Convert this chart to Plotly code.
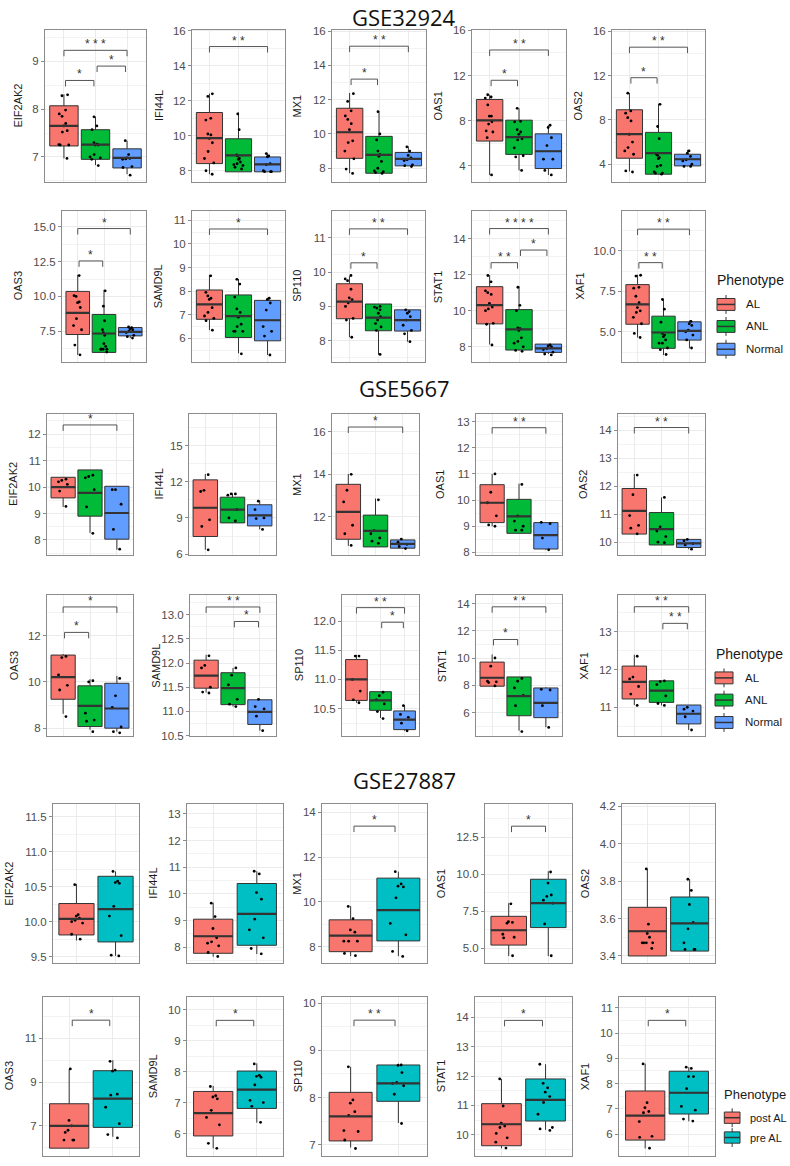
import plotly.graph_objects as go

W, H = 790, 1166

PHENO_A = ["AL", "ANL", "Normal"]
PHENO_C = ["post AL", "pre AL"]
FILL = {"AL": "#F8766D", "ANL": "#00BA38", "Normal": "#619CFF",
        "post AL": "#F8766D", "pre AL": "#00BFC4"}
DATASETS = ["GSE32924", "GSE5667", "GSE27887"]

# ---------------- GSE32924 (AL / ANL / Normal) ----------------
# box stats per group: [lower whisker, q1, median, q3, upper whisker]
A_EIF2AK2_pts = [[8.3, 8.28, 7.98, 7.9, 7.85, 7.7, 7.65, 7.55, 7.52, 7.26, 7.25, 7.25, 6.97],
                 [7.84, 7.65, 7.57, 7.3, 7.27, 7.25, 7.25, 7.05, 7.0, 6.98, 6.95, 6.82],
                 [7.34, 7.05, 6.98, 6.97, 6.96, 6.95, 6.8, 6.78, 6.62]]
A_EIF2AK2_box = [[6.97, 7.23, 7.65, 8.07, 8.31], [6.83, 6.95, 7.26, 7.57, 7.84], [6.64, 6.77, 6.98, 7.17, 7.34]]
A_EIF2AK2_ticks = ["7", "8", "9"]
A_EIF2AK2_range = [6.47, 9.66]
A_EIF2AK2_sig = [(1, 3, 9.23, "***"), (1, 2, 8.6, "*"), (2, 3, 8.9, "*")]

A_IFI44L_pts = [[12.4, 12.25, 11.0, 10.9, 10.1, 10.05, 9.85, 9.6, 9.1, 8.7, 8.45, 8.0, 7.8],
                [11.25, 10.35, 8.9, 8.85, 8.7, 8.65, 8.5, 8.4, 8.35, 8.3, 8.2, 8.1],
                [8.98, 8.85, 8.8, 8.4, 8.35, 8.0, 7.95, 7.95, 7.95]]
A_IFI44L_box = [[7.81, 8.41, 9.87, 11.33, 12.41], [7.94, 7.94, 8.88, 9.83, 11.33], [7.94, 7.94, 8.37, 8.79, 8.98]]
A_IFI44L_ticks = ["8", "10", "12", "14", "16"]
A_IFI44L_range = [7.34, 16.06]
A_IFI44L_sig = [(1, 3, 15.1, "**")]

A_MX1_pts = [[12.35, 11.9, 11.35, 11.05, 10.85, 10.6, 10.25, 9.6, 9.5, 9.0, 8.55, 7.95, 7.7],
             [11.3, 10.0, 9.65, 9.0, 8.8, 8.7, 8.4, 8.0, 7.85, 7.8, 7.75, 7.7],
             [9.25, 9.0, 8.75, 8.6, 8.5, 8.45, 8.2, 8.15, 8.1]]
A_MX1_box = [[7.71, 8.58, 10.1, 11.5, 12.39], [7.71, 7.71, 8.78, 9.86, 11.33], [8.14, 8.14, 8.55, 8.92, 9.27]]
A_MX1_ticks = ["8", "10", "12", "14", "16"]
A_MX1_range = [7.18, 16.08]
A_MX1_sig = [(1, 3, 15.12, "**"), (1, 2, 13.2, "*")]

A_OAS1_pts = [[10.3, 10.1, 10.0, 9.4, 8.4, 8.4, 7.9, 7.7, 7.1, 7.0, 6.5, 3.2],
              [9.1, 7.95, 7.9, 7.2, 7.0, 6.8, 6.4, 6.3, 5.6, 4.9, 4.8, 3.6],
              [7.6, 7.4, 6.5, 5.8, 4.6, 4.6, 3.6, 3.2]]
A_OAS1_box = [[3.2, 6.2, 8.03, 9.88, 10.3], [3.6, 5.02, 6.55, 8.05, 9.1], [3.2, 3.77, 5.3, 6.84, 7.6]]
A_OAS1_ticks = ["4", "8", "12", "16"]
A_OAS1_range = [2.55, 16.05]
A_OAS1_sig = [(1, 3, 14.26, "**"), (1, 2, 11.58, "*")]

A_OAS2_pts = [[10.4, 8.8, 8.6, 8.2, 7.9, 6.7, 6.0, 5.5, 5.2, 4.9, 3.4, 3.3],
              [9.4, 7.4, 6.3, 4.9, 4.8, 4.6, 4.5, 3.9, 3.8, 3.3, 3.2, 3.2, 3.1],
              [5.2, 5.0, 4.7, 4.4, 4.3, 4.0, 3.8, 3.8]]
A_OAS2_box = [[3.34, 4.54, 6.71, 8.91, 10.42], [3.1, 3.1, 5.0, 6.87, 9.45], [3.8, 3.85, 4.45, 4.9, 5.29]]
A_OAS2_ticks = ["4", "8", "12", "16"]
A_OAS2_range = [2.37, 16.12]
A_OAS2_sig = [(1, 3, 14.55, "**"), (1, 2, 11.8, "*")]

A_OAS3_pts = [[11.5, 10.05, 10.0, 9.6, 9.55, 9.2, 8.4, 7.9, 7.6, 6.5, 5.8],
              [10.4, 9.3, 8.25, 7.6, 7.4, 7.2, 6.6, 6.4, 6.2, 6.2, 6.2, 6.2, 6.0],
              [7.8, 7.75, 7.65, 7.6, 7.5, 7.4, 7.2, 7.1, 7.0]]
A_OAS3_box = [[5.79, 7.26, 8.81, 10.36, 11.55], [5.97, 5.97, 7.33, 8.7, 10.47], [7.0, 7.16, 7.45, 7.76, 7.8]]
A_OAS3_ticks = ["7.5", "10.0", "12.5", "15.0"]
A_OAS3_range = [5.31, 16.14]
A_OAS3_sig = [(1, 3, 14.88, "*"), (1, 2, 12.55, "*")]

A_SAMD9L_pts = [[8.65, 7.95, 7.8, 7.7, 7.65, 7.3, 7.1, 6.95, 6.85, 6.75, 6.35],
                [8.5, 8.3, 7.75, 7.25, 7.1, 6.9, 6.6, 6.5, 6.3, 6.3, 6.3, 5.35],
                [7.7, 7.65, 7.5, 7.2, 6.5, 6.3, 6.1, 5.3]]
A_SAMD9L_box = [[6.35, 6.81, 7.44, 8.05, 8.69], [5.37, 6.04, 6.94, 7.84, 8.51], [5.3, 5.9, 6.77, 7.61, 7.72]]
A_SAMD9L_ticks = ["6", "7", "8", "9", "10", "11"]
A_SAMD9L_range = [5.02, 11.39]
A_SAMD9L_sig = [(1, 3, 10.63, "*")]

A_SP110_pts = [[9.9, 9.8, 9.75, 9.5, 9.25, 9.2, 9.1, 9.0, 8.65, 8.6, 8.1],
               [9.0, 8.98, 8.95, 8.9, 8.8, 8.7, 8.6, 8.5, 8.4, 8.3, 7.6],
               [8.9, 8.85, 8.8, 8.7, 8.6, 8.45, 8.3, 8.2, 7.97]]
A_SP110_box = [[8.1, 8.64, 9.14, 9.66, 9.88], [7.59, 8.29, 8.67, 9.07, 9.07], [7.97, 8.28, 8.6, 8.9, 8.9]]
A_SP110_ticks = ["8", "9", "10", "11"]
A_SP110_range = [7.39, 11.78]
A_SP110_sig = [(1, 3, 11.26, "**"), (1, 2, 10.27, "*")]

A_STAT1_pts = [[11.95, 11.6, 11.1, 11.0, 10.9, 10.4, 10.2, 10.1, 10.0, 9.3, 9.25, 8.1],
               [11.3, 10.3, 10.0, 9.05, 9.0, 8.9, 8.5, 8.3, 8.2, 8.0, 7.8, 7.75],
               [8.1, 8.05, 8.0, 7.9, 7.85, 7.7, 7.6, 7.55]]
A_STAT1_box = [[8.13, 9.27, 10.31, 11.33, 11.97], [7.8, 7.82, 8.96, 10.06, 11.35], [7.6, 7.69, 7.91, 8.15, 8.15]]
A_STAT1_ticks = ["8", "10", "12", "14"]
A_STAT1_range = [7.18, 15.52]
A_STAT1_sig = [(1, 3, 14.55, "****"), (1, 2, 12.66, "**"), (2, 3, 13.36, "*")]

A_XAF1_pts = [[8.5, 8.45, 7.75, 7.7, 7.2, 6.8, 6.5, 6.3, 6.2, 5.9, 5.5, 4.9, 4.65],
              [7.0, 6.4, 5.6, 4.9, 4.8, 4.7, 4.5, 4.3, 4.3, 4.0, 3.9, 3.6],
              [5.65, 5.5, 5.4, 5.1, 5.0, 4.8, 4.5, 4.0]]
A_XAF1_box = [[4.65, 5.47, 6.7, 7.92, 8.53], [3.57, 3.98, 4.96, 5.97, 7.0], [3.98, 4.49, 5.06, 5.62, 5.7]]
A_XAF1_ticks = ["5.0", "7.5", "10.0"]
A_XAF1_range = [3.16, 12.47]
A_XAF1_sig = [(1, 3, 11.35, "**"), (1, 2, 9.28, "**")]

# ---------------- GSE5667 (AL / ANL / Normal) ----------------
B_EIF2AK2_pts = [[10.3, 10.25, 10.2, 10.1, 9.85, 9.27], [10.45, 10.4, 10.35, 9.9, 9.25, 8.25],
                 [9.9, 9.9, 9.35, 8.4, 7.65]]
B_EIF2AK2_box = [[9.25, 9.59, 10.0, 10.37, 10.37], [8.27, 8.9, 9.78, 10.65, 10.65], [7.63, 8.03, 9.02, 10.03, 10.03]]
B_EIF2AK2_ticks = ["8", "9", "10", "11", "12"]
B_EIF2AK2_range = [7.44, 12.76]
B_EIF2AK2_sig = [(1, 3, 12.35, "*")]

B_IFI44L_pts = [[12.6, 11.3, 11.2, 8.85, 8.3, 6.35], [11.0, 11.0, 10.9, 9.7, 9.0, 8.75],
                [10.4, 9.7, 9.0, 8.95, 8.05]]
B_IFI44L_box = [[6.36, 7.46, 9.85, 12.17, 12.66], [8.59, 8.59, 9.69, 10.73, 11.06], [8.05, 8.34, 9.22, 10.1, 10.46]]
B_IFI44L_ticks = ["6", "9", "12", "15"]
B_IFI44L_range = [5.94, 17.64]
B_IFI44L_sig = []

B_MX1_pts = [[14.0, 13.25, 12.7, 11.6, 11.2, 10.65], [12.8, 11.35, 11.2, 11.0, 10.85, 10.75],
             [10.95, 10.8, 10.7, 10.6, 10.5]]
B_MX1_box = [[10.63, 10.94, 12.23, 13.53, 14.02], [10.58, 10.58, 11.34, 12.08, 12.86], [10.5, 10.52, 10.72, 10.91, 10.95]]
B_MX1_ticks = ["12", "14", "16"]
B_MX1_range = [10.21, 16.84]
B_MX1_sig = [(1, 3, 16.23, "*")]

B_OAS1_pts = [[11.0, 10.3, 9.9, 9.4, 9.05, 9.0], [10.6, 9.4, 9.2, 9.0, 8.85, 8.85], [9.15, 9.1, 8.55, 8.1]]
B_OAS1_box = [[9.0, 9.14, 9.9, 10.59, 11.0], [8.73, 8.73, 9.38, 10.03, 10.63], [8.1, 8.13, 8.66, 9.14, 9.15]]
B_OAS1_ticks = ["8", "9", "10", "11", "12", "13"]
B_OAS1_range = [7.91, 13.29]
B_OAS1_sig = [(1, 3, 12.77, "**")]

B_OAS2_pts = [[12.4, 11.7, 10.95, 10.6, 10.5, 10.3], [11.6, 10.55, 10.4, 10.2, 10.0, 9.98],
              [10.1, 10.05, 9.95, 9.9, 9.75]]
B_OAS2_box = [[10.29, 10.29, 11.12, 11.92, 12.44], [9.9, 9.9, 10.47, 11.06, 11.6], [9.75, 9.81, 9.96, 10.1, 10.1]]
B_OAS2_ticks = ["10", "11", "12", "13", "14"]
B_OAS2_range = [9.55, 14.58]
B_OAS2_sig = [(1, 3, 14.1, "**")]

B_OAS3_pts = [[11.1, 11.05, 10.3, 9.85, 9.65, 8.5], [10.05, 10.0, 8.65, 8.35, 8.3, 7.85],
              [10.15, 9.4, 8.9, 8.05, 7.85, 7.8]]
B_OAS3_box = [[8.62, 9.25, 10.21, 11.16, 11.2], [7.93, 8.07, 8.96, 9.83, 10.12], [7.85, 8.0, 8.85, 9.94, 10.26]]
B_OAS3_ticks = ["8", "10", "12"]
B_OAS3_range = [7.66, 13.74]
B_OAS3_sig = [(1, 3, 13.24, "*"), (1, 2, 12.14, "*")]

B_SAMD9L_pts = [[12.15, 11.95, 11.9, 11.5, 11.4, 11.38], [11.9, 11.75, 11.55, 11.25, 11.15, 11.1],
                [11.25, 11.1, 11.05, 10.9, 10.6]]
B_SAMD9L_box = [[11.39, 11.48, 11.74, 12.06, 12.17], [11.1, 11.14, 11.48, 11.8, 11.9], [10.6, 10.73, 10.99, 11.24, 11.25]]
B_SAMD9L_ticks = ["10.5", "11.0", "11.5", "12.0", "12.5", "13.0"]
B_SAMD9L_range = [10.49, 13.4]
B_SAMD9L_sig = [(1, 3, 13.16, "**"), (2, 3, 12.86, "*")]

B_SP110_pts = [[11.4, 11.4, 11.0, 10.8, 10.65, 10.6], [10.78, 10.72, 10.65, 10.58, 10.45, 10.33],
               [10.55, 10.4, 10.35, 10.25, 10.12]]
B_SP110_box = [[10.6, 10.64, 11.0, 11.34, 11.42], [10.34, 10.47, 10.64, 10.79, 10.79], [10.12, 10.14, 10.31, 10.46, 10.56]]
B_SP110_ticks = ["10.5", "11.0", "11.5", "12.0"]
B_SP110_range = [10.03, 12.44]
B_SP110_sig = [(1, 3, 12.23, "**"), (2, 3, 11.98, "*")]

B_STAT1_pts = [[10.0, 9.4, 8.3, 8.25, 8.2, 7.95], [8.5, 8.3, 7.8, 7.25, 6.5, 4.6], [7.7, 7.65, 6.5, 4.9]]
B_STAT1_box = [[7.93, 7.93, 8.55, 9.7, 10.26], [4.66, 5.76, 7.2, 8.61, 8.61], [4.92, 5.62, 6.71, 7.8, 7.85]]
B_STAT1_ticks = ["4", "6", "8", "10", "12", "14"]
B_STAT1_range = [4.27, 14.6]
B_STAT1_sig = [(1, 3, 13.76, "**"), (1, 2, 11.36, "*")]

B_XAF1_pts = [[12.35, 11.8, 11.75, 11.55, 11.35, 11.05], [11.7, 11.68, 11.6, 11.3, 11.1, 11.05],
              [11.0, 10.95, 10.9, 10.75, 10.4]]
B_XAF1_box = [[11.06, 11.22, 11.67, 12.09, 12.39], [11.05, 11.13, 11.44, 11.7, 11.7], [10.4, 10.56, 10.83, 11.06, 11.06]]
B_XAF1_ticks = ["11", "12", "13"]
B_XAF1_range = [10.24, 13.96]
B_XAF1_sig = [(1, 3, 13.66, "**"), (2, 3, 13.22, "**")]

# ---------------- GSE27887 (post AL / pre AL) ----------------
C_EIF2AK2_pts = [[10.53, 10.1, 10.08, 10.05, 10.02, 10.0, 9.98, 9.82, 9.75],
                 [10.72, 10.58, 10.56, 10.55, 10.22, 10.08, 9.8, 9.51, 9.52]]
C_EIF2AK2_box = [[9.73, 9.81, 10.04, 10.26, 10.54], [9.51, 9.71, 10.18, 10.65, 10.72]]
C_EIF2AK2_ticks = ["9.5", "10.0", "10.5", "11.0", "11.5"]
C_EIF2AK2_range = [9.41, 11.68]
C_EIF2AK2_sig = []

C_IFI44L_pts = [[9.65, 9.15, 8.7, 8.35, 8.2, 8.15, 8.05, 7.8, 7.65],
                [10.85, 10.75, 10.05, 9.8, 9.05, 8.65, 8.35, 7.95, 7.75]]
C_IFI44L_box = [[7.64, 7.77, 8.41, 9.05, 9.67], [7.74, 8.07, 9.25, 10.39, 10.85]]
C_IFI44L_ticks = ["8", "9", "10", "11", "12", "13"]
C_IFI44L_range = [7.41, 13.36]
C_IFI44L_sig = []

C_MX1_pts = [[9.8, 9.25, 8.75, 8.65, 8.25, 8.25, 8.25, 7.7, 7.6],
             [11.35, 10.8, 10.7, 10.67, 10.18, 9.04, 8.53, 7.79, 7.57]]
C_MX1_box = [[7.58, 7.78, 8.5, 9.2, 9.81], [7.58, 8.26, 9.63, 11.06, 11.35]]
C_MX1_ticks = ["8", "10", "12", "14"]
C_MX1_range = [7.28, 14.35]
C_MX1_sig = [(1, 2, 13.38, "*")]

C_OAS1_pts = [[8.0, 6.8, 6.75, 6.7, 5.95, 5.75, 5.7, 4.5],
              [10.15, 9.4, 8.6, 8.5, 8.25, 8.05, 6.65, 4.5]]
C_OAS1_box = [[4.48, 5.22, 6.22, 7.16, 8.05], [4.48, 6.4, 8.05, 9.66, 10.2]]
C_OAS1_ticks = ["5.0", "7.5", "10.0", "12.5"]
C_OAS1_range = [4.02, 14.71]
C_OAS1_sig = [(1, 2, 13.24, "*")]

C_OAS2_pts = [[3.865, 3.57, 3.52, 3.5, 3.47, 3.47, 3.47, 3.47, 3.44],
              [3.81, 3.75, 3.675, 3.58, 3.545, 3.47, 3.435, 3.435, 3.435]]
C_OAS2_box = [[3.4, 3.4, 3.532, 3.66, 3.864], [3.426, 3.426, 3.574, 3.715, 3.81]]
C_OAS2_ticks = ["3.4", "3.6", "3.8", "4.0", "4.2"]
C_OAS2_range = [3.363, 4.21]
C_OAS2_sig = []

C_OAS3_pts = [[9.6, 7.25, 7.0, 6.8, 6.7, 6.35, 6.35, 6.35],
              [9.95, 9.55, 9.5, 8.45, 8.4, 7.85, 7.1, 6.6, 6.45]]
C_OAS3_box = [[5.98, 5.98, 7.0, 8.01, 9.6], [6.5, 6.93, 8.24, 9.52, 10.0]]
C_OAS3_ticks = ["7", "9", "11"]
C_OAS3_range = [5.62, 12.91]
C_OAS3_sig = [(1, 2, 11.83, "*")]

C_SAMD9L_pts = [[7.52, 7.22, 7.18, 7.12, 6.75, 6.52, 6.28, 5.68, 5.52],
                [8.25, 7.88, 7.85, 7.82, 7.57, 7.07, 7.0, 6.88, 6.36]]
C_SAMD9L_box = [[5.52, 5.92, 6.66, 7.36, 7.54], [6.35, 6.81, 7.42, 8.02, 8.27]]
C_SAMD9L_ticks = ["6", "7", "8", "9", "10"]
C_SAMD9L_range = [5.27, 10.43]
C_SAMD9L_sig = [(1, 2, 9.66, "*")]

C_SP110_pts = [[8.65, 7.95, 7.88, 7.7, 7.62, 7.3, 7.28, 7.1, 6.92],
               [8.69, 8.68, 8.53, 8.32, 8.3, 8.25, 8.07, 7.45]]
C_SP110_box = [[6.94, 7.08, 7.6, 8.11, 8.65], [7.46, 7.92, 8.3, 8.69, 8.72]]
C_SP110_ticks = ["7", "8", "9", "10"]
C_SP110_range = [6.76, 10.14]
C_SP110_sig = [(1, 2, 9.64, "**")]

C_STAT1_pts = [[11.9, 10.98, 10.4, 10.3, 10.25, 10.05, 9.9, 9.75, 9.55],
               [12.4, 11.75, 11.6, 11.45, 11.3, 11.1, 10.7, 10.25, 10.2, 10.15]]
C_STAT1_box = [[9.54, 9.63, 10.36, 11.06, 11.9], [10.17, 10.47, 11.19, 11.9, 12.4]]
C_STAT1_ticks = ["10", "11", "12", "13", "14"]
C_STAT1_range = [9.28, 14.7]
C_STAT1_sig = [(1, 2, 13.89, "*")]

C_XAF1_pts = [[8.78, 7.25, 7.05, 6.9, 6.85, 6.5, 5.92, 5.88, 5.45],
              [8.65, 8.6, 8.28, 8.28, 7.8, 7.1, 6.95, 6.6, 6.52]]
C_XAF1_box = [[5.44, 5.77, 6.74, 7.71, 8.79], [6.51, 6.8, 7.64, 8.49, 8.65]]
C_XAF1_ticks = ["6", "7", "8", "9", "10", "11"]
C_XAF1_range = [5.14, 11.44]
C_XAF1_sig = [(1, 2, 10.5, "*")]

PANELS = [
    ("EIF2AK2", PHENO_A, A_EIF2AK2_pts, A_EIF2AK2_box, A_EIF2AK2_ticks, A_EIF2AK2_range, A_EIF2AK2_sig),
    ("IFI44L", PHENO_A, A_IFI44L_pts, A_IFI44L_box, A_IFI44L_ticks, A_IFI44L_range, A_IFI44L_sig),
    ("MX1", PHENO_A, A_MX1_pts, A_MX1_box, A_MX1_ticks, A_MX1_range, A_MX1_sig),
    ("OAS1", PHENO_A, A_OAS1_pts, A_OAS1_box, A_OAS1_ticks, A_OAS1_range, A_OAS1_sig),
    ("OAS2", PHENO_A, A_OAS2_pts, A_OAS2_box, A_OAS2_ticks, A_OAS2_range, A_OAS2_sig),
    ("OAS3", PHENO_A, A_OAS3_pts, A_OAS3_box, A_OAS3_ticks, A_OAS3_range, A_OAS3_sig),
    ("SAMD9L", PHENO_A, A_SAMD9L_pts, A_SAMD9L_box, A_SAMD9L_ticks, A_SAMD9L_range, A_SAMD9L_sig),
    ("SP110", PHENO_A, A_SP110_pts, A_SP110_box, A_SP110_ticks, A_SP110_range, A_SP110_sig),
    ("STAT1", PHENO_A, A_STAT1_pts, A_STAT1_box, A_STAT1_ticks, A_STAT1_range, A_STAT1_sig),
    ("XAF1", PHENO_A, A_XAF1_pts, A_XAF1_box, A_XAF1_ticks, A_XAF1_range, A_XAF1_sig),
    ("EIF2AK2", PHENO_A, B_EIF2AK2_pts, B_EIF2AK2_box, B_EIF2AK2_ticks, B_EIF2AK2_range, B_EIF2AK2_sig),
    ("IFI44L", PHENO_A, B_IFI44L_pts, B_IFI44L_box, B_IFI44L_ticks, B_IFI44L_range, B_IFI44L_sig),
    ("MX1", PHENO_A, B_MX1_pts, B_MX1_box, B_MX1_ticks, B_MX1_range, B_MX1_sig),
    ("OAS1", PHENO_A, B_OAS1_pts, B_OAS1_box, B_OAS1_ticks, B_OAS1_range, B_OAS1_sig),
    ("OAS2", PHENO_A, B_OAS2_pts, B_OAS2_box, B_OAS2_ticks, B_OAS2_range, B_OAS2_sig),
    ("OAS3", PHENO_A, B_OAS3_pts, B_OAS3_box, B_OAS3_ticks, B_OAS3_range, B_OAS3_sig),
    ("SAMD9L", PHENO_A, B_SAMD9L_pts, B_SAMD9L_box, B_SAMD9L_ticks, B_SAMD9L_range, B_SAMD9L_sig),
    ("SP110", PHENO_A, B_SP110_pts, B_SP110_box, B_SP110_ticks, B_SP110_range, B_SP110_sig),
    ("STAT1", PHENO_A, B_STAT1_pts, B_STAT1_box, B_STAT1_ticks, B_STAT1_range, B_STAT1_sig),
    ("XAF1", PHENO_A, B_XAF1_pts, B_XAF1_box, B_XAF1_ticks, B_XAF1_range, B_XAF1_sig),
    ("EIF2AK2", PHENO_C, C_EIF2AK2_pts, C_EIF2AK2_box, C_EIF2AK2_ticks, C_EIF2AK2_range, C_EIF2AK2_sig),
    ("IFI44L", PHENO_C, C_IFI44L_pts, C_IFI44L_box, C_IFI44L_ticks, C_IFI44L_range, C_IFI44L_sig),
    ("MX1", PHENO_C, C_MX1_pts, C_MX1_box, C_MX1_ticks, C_MX1_range, C_MX1_sig),
    ("OAS1", PHENO_C, C_OAS1_pts, C_OAS1_box, C_OAS1_ticks, C_OAS1_range, C_OAS1_sig),
    ("OAS2", PHENO_C, C_OAS2_pts, C_OAS2_box, C_OAS2_ticks, C_OAS2_range, C_OAS2_sig),
    ("OAS3", PHENO_C, C_OAS3_pts, C_OAS3_box, C_OAS3_ticks, C_OAS3_range, C_OAS3_sig),
    ("SAMD9L", PHENO_C, C_SAMD9L_pts, C_SAMD9L_box, C_SAMD9L_ticks, C_SAMD9L_range, C_SAMD9L_sig),
    ("SP110", PHENO_C, C_SP110_pts, C_SP110_box, C_SP110_ticks, C_SP110_range, C_SP110_sig),
    ("STAT1", PHENO_C, C_STAT1_pts, C_STAT1_box, C_STAT1_ticks, C_STAT1_range, C_STAT1_sig),
    ("XAF1", PHENO_C, C_XAF1_pts, C_XAF1_box, C_XAF1_ticks, C_XAF1_range, C_XAF1_sig),
]

# ---------------- layout geometry (pixels) ----------------
ROW_TB = [(25, 179), (208, 360), (413, 555), (596, 738), (807, 967), (1001, 1162)]
ROW_LR = [
    [(45, 146), (192, 285), (332, 426), (472, 566), (612, 705)],
    [(62, 146), (192, 285), (332, 425), (472, 566), (622, 705)],
    [(47, 133), (189, 276), (332, 419), (476, 562), (618, 705)],
    [(47, 133), (190, 276), (342, 419), (476, 562), (618, 705)],
    [(53, 139), (187, 283), (322, 427), (485, 572), (622, 715)],
    [(43, 139), (187, 283), (322, 427), (475, 572), (619, 715)],
]
YTITLE_X = [
    [18.5, 159, 297.5, 438.5, 578.5],
    [18, 158, 297.5, 438, 580.5],
    [13.5, 159, 297.5, 440.5, 583.5],
    [13.5, 156, 298.5, 441.5, 584],
    [9, 153, 297, 440.5, 584.5],
    [9, 153, 298, 441, 585],
]
TITLE_POS = [(404, 12), (405, 387), (405, 782)]

FONT = "Liberation Sans, Arial, sans-serif"
GRID = "#EBEBEB"
MINOR = "#F3F3F3"
BORDER = "#8C8C8C"
OUTLINE = "#333333"


def px_x(x):
    return x / W


def px_y(y):
    return 1 - y / H


fig = go.Figure()
annotations = []
shapes = []
axes = {}

for idx, (gene, groups, pts, box, ticks, yr, sig) in enumerate(PANELS):
    r, c = divmod(idx, 5)
    top, bot = ROW_TB[r]
    left, right = ROW_LR[r][c]
    n = idx + 1
    xa = "x" if n == 1 else f"x{n}"
    ya = "y" if n == 1 else f"y{n}"
    ng = len(groups)
    for k, g in enumerate(groups):
        pos = k + 1
        lo, q1, med, q3, hi = box[k]
        fig.add_trace(go.Box(
            x=[pos], lowerfence=[lo], q1=[q1], median=[med], q3=[q3], upperfence=[hi],
            width=0.9, fillcolor=FILL[g], line=dict(color=OUTLINE, width=1),
            whiskerwidth=0, boxpoints=False, xaxis=xa, yaxis=ya,
            showlegend=False, hoverinfo="skip"))
        fig.add_trace(go.Scatter(
            x=[pos - 0.45, pos + 0.45], y=[med, med], mode="lines",
            line=dict(color=OUTLINE, width=2.2), xaxis=xa, yaxis=ya,
            showlegend=False, hoverinfo="skip"))
        fig.add_trace(go.Box(
            x0=pos, y=pts[k], boxpoints="all", jitter=0.45, pointpos=0, width=0.9,
            fillcolor="rgba(0,0,0,0)", line=dict(color="rgba(0,0,0,0)", width=0),
            whiskerwidth=0, marker=dict(color="black", size=2.8),
            xaxis=xa, yaxis=ya, showlegend=False, hoverinfo="skip"))
    span = yr[1] - yr[0]
    tip = 6.0 / (bot - top) * span
    for (i, j, yv, lab) in sig:
        if ng == 2:
            sh = 0.07
        elif j - i > 1:
            sh = 0.0
        else:
            sh = 0.05
        a, b = i + sh, j - sh
        fig.add_trace(go.Scatter(
            x=[a, a, b, b], y=[yv - tip, yv, yv, yv - tip], mode="lines",
            line=dict(color="#555555", width=1), xaxis=xa, yaxis=ya,
            showlegend=False, hoverinfo="skip"))
        annotations.append(dict(
            x=(a + b) / 2, y=yv, xref=xa, yref=ya, text=" ".join(lab), showarrow=False,
            xanchor="center", yanchor="bottom", yshift=-3,
            font=dict(family=FONT, size=12, color="#333333")))
    tv = [float(t) for t in ticks]
    step = tv[1] - tv[0]
    mids = [tv[0] - step / 2] + [t + step / 2 for t in tv]
    xkey = "xaxis" if n == 1 else f"xaxis{n}"
    ykey = "yaxis" if n == 1 else f"yaxis{n}"
    axes[xkey] = dict(
        domain=[px_x(left), px_x(right)], range=[0.4, ng + 0.6], anchor=ya,
        tickmode="array", tickvals=list(range(1, ng + 1)), showticklabels=False, ticks="",
        showgrid=True, gridcolor=GRID, gridwidth=1, zeroline=False,
        showline=True, mirror=True, linecolor=BORDER, linewidth=1, fixedrange=True)
    axes[ykey] = dict(
        domain=[px_y(bot), px_y(top)], range=yr, anchor=xa,
        tickmode="array", tickvals=tv, ticktext=ticks,
        ticks="outside", ticklen=3, tickcolor=BORDER, tickwidth=1,
        tickfont=dict(family=FONT, size=11.5, color="#4D4D4D"),
        showgrid=True, gridcolor=GRID, gridwidth=1, zeroline=False,
        showline=True, mirror=True, linecolor=BORDER, linewidth=1, fixedrange=True,
        minor=dict(tickmode="array", tickvals=mids, showgrid=True, gridcolor=MINOR,
                   gridwidth=0.7, ticks=""))
    annotations.append(dict(
        x=px_x(YTITLE_X[r][c]), y=px_y((top + bot) / 2), xref="paper", yref="paper",
        text=gene, textangle=-90, showarrow=False, xanchor="center", yanchor="middle",
        font=dict(family=FONT, size=11, color="#1A1A1A")))

# dataset titles
for name, (tx, ty) in zip(DATASETS, TITLE_POS):
    annotations.append(dict(
        x=px_x(tx), y=px_y(ty), xref="paper", yref="paper", text=name, showarrow=False,
        xanchor="center", yanchor="middle",
        font=dict(family="Open Sans, sans-serif", size=22, color="#111111")))

# legends (Phenotype)
LEGENDS = [
    dict(labels=PHENO_A, title=(715, 278), keyx=(717, 735), ys=[302.3, 324.5, 347.5], labx=744,
         tsize=14, lsize=11.5, bh=6, wh=9.5),
    dict(labels=PHENO_A, title=(714, 655), keyx=(715, 733), ys=[679.3, 701.7, 724.3], labx=742.5,
         tsize=14, lsize=11.5, bh=6, wh=9.5),
    dict(labels=PHENO_C, title=(721.5, 1100), keyx=(724.3, 740), ys=[1123.3, 1143.3], labx=748.3,
         tsize=13, lsize=11, bh=5.7, wh=9.5),
]
for lg in LEGENDS:
    annotations.append(dict(
        x=px_x(lg["title"][0]), y=px_y(lg["title"][1]), xref="paper", yref="paper",
        text="Phenotype", showarrow=False, xanchor="left", yanchor="middle",
        font=dict(family=FONT, size=lg["tsize"], color="#1A1A1A")))
    x0, x1 = lg["keyx"]
    xc = (x0 + x1) / 2
    for lab, yc in zip(lg["labels"], lg["ys"]):
        shapes.append(dict(type="line", xref="paper", yref="paper",
                           x0=px_x(xc), x1=px_x(xc), y0=px_y(yc - lg["wh"]), y1=px_y(yc + lg["wh"]),
                           line=dict(color=OUTLINE, width=1)))
        shapes.append(dict(type="rect", xref="paper", yref="paper",
                           x0=px_x(x0), x1=px_x(x1), y0=px_y(yc - lg["bh"]), y1=px_y(yc + lg["bh"]),
                           fillcolor=FILL[lab], line=dict(color=OUTLINE, width=1)))
        shapes.append(dict(type="line", xref="paper", yref="paper",
                           x0=px_x(x0), x1=px_x(x1), y0=px_y(yc), y1=px_y(yc),
                           line=dict(color=OUTLINE, width=1.5)))
        annotations.append(dict(
            x=px_x(lg["labx"]), y=px_y(yc), xref="paper", yref="paper", text=lab,
            showarrow=False, xanchor="left", yanchor="middle",
            font=dict(family=FONT, size=lg["lsize"], color="#1A1A1A")))

fig.update_layout(
    width=W, height=H, margin=dict(l=0, r=0, t=0, b=0),
    paper_bgcolor="white", plot_bgcolor="white",
    boxmode="overlay", showlegend=False,
    annotations=annotations, shapes=shapes, **axes)

fig.write_html("out.html", config={"displayModeBar": False},
               post_script="document.body.style.margin='0';document.body.style.overflow='hidden';")
